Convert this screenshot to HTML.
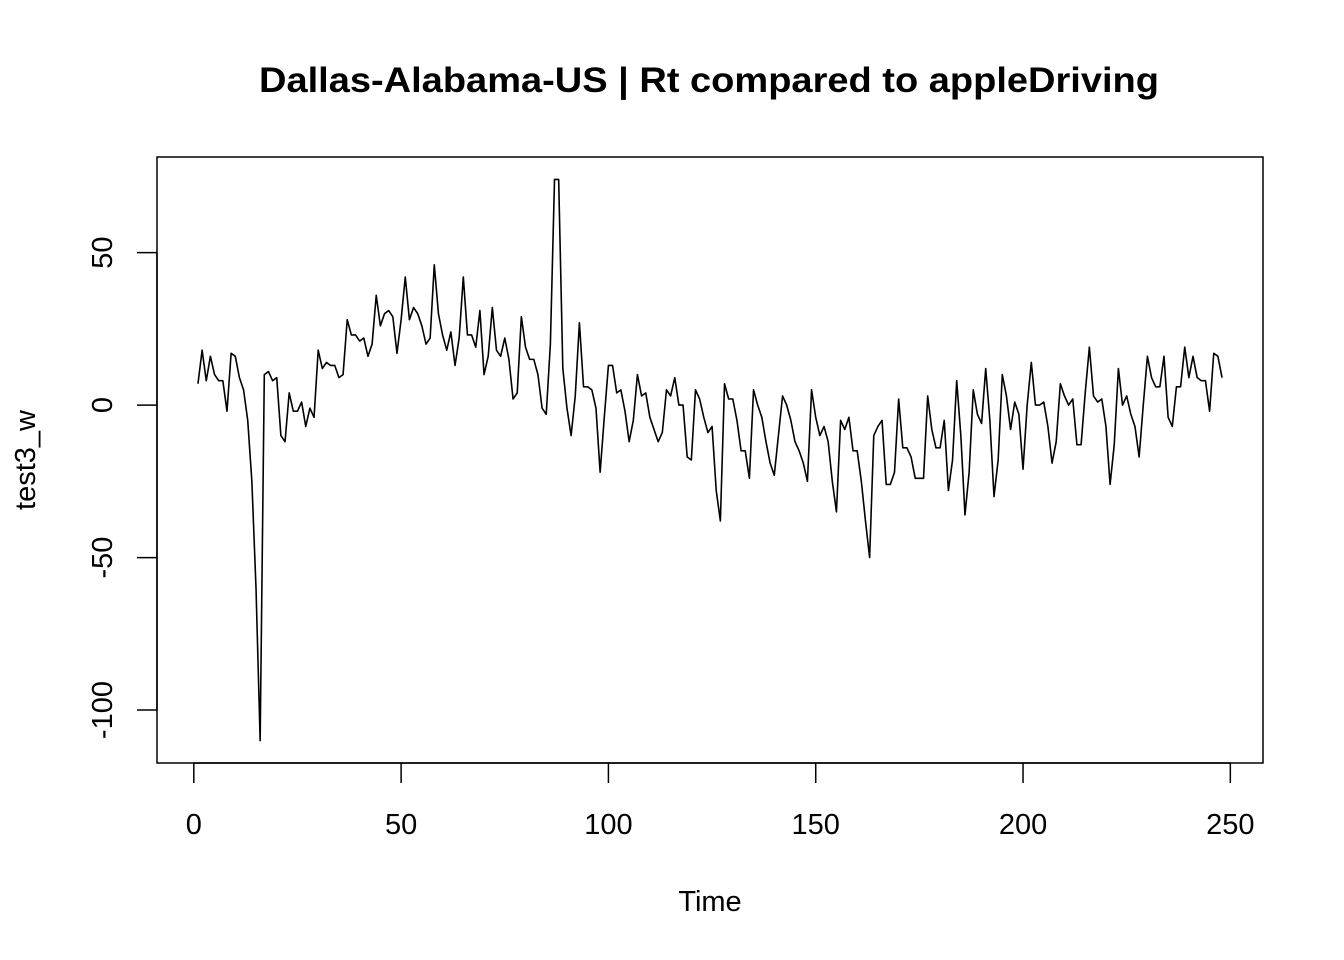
<!DOCTYPE html>
<html><head><meta charset="utf-8"><style>
html,body{margin:0;padding:0;background:#fff;}
svg{display:block;font-family:"Liberation Sans",Arial,sans-serif;}
</style></head><body>
<svg id="chart" width="1344" height="960" viewBox="0 0 1344 960" xmlns="http://www.w3.org/2000/svg">
<rect width="1344" height="960" fill="#fff"/>
<text x="709" y="92" text-anchor="middle" font-size="35" font-weight="bold" textLength="900" lengthAdjust="spacingAndGlyphs">Dallas-Alabama-US | Rt compared to appleDriving</text>
<rect x="157" y="157" width="1106" height="606" fill="none" stroke="#000" stroke-width="1.5"/>
<g id="xaxis"></g>
<g id="yaxis"></g>
<text x="710" y="911" text-anchor="middle" font-size="29">Time</text>
<text transform="translate(35,460) rotate(-90)" text-anchor="middle" font-size="29">test3_w</text>
<path id="series" fill="none" stroke="#000" stroke-width="1.6" stroke-linejoin="round"/>
</svg>
<script>
const values = [7,18,8,16,10,8,8,-2,17,16,9,5,-5,-25,-60,-110,10,11,8,9,-10,-12,4,-2,-2,1,-7,-1,-4,18,12,14,13,13,9,10,28,23,23,21,22,16,20,36,26,30,31,29,17,28,42,28,32,30,26,20,22,46,30,23,18,24,13,22,42,23,23,19,31,10,16,32,18,16,22,15,2,4,29,19,15,15,10,-1,-3,20,74,74,12,-1,-10,3,27,6,6,5,-1,-22,-4,13,13,4,5,-2,-12,-5,10,3,4,-4,-8,-12,-9,5,3,9,0,0,-17,-18,5,2,-4,-9,-7,-28,-38,7,2,2,-5,-15,-15,-24,5,0,-4,-12,-19,-23,-10,3,0,-5,-12,-15,-19,-25,5,-4,-10,-7,-12,-25,-35,-5,-8,-4,-15,-15,-25,-38,-50,-10,-7,-5,-26,-26,-22,2,-14,-14,-17,-24,-24,-24,3,-8,-14,-14,-5,-28,-18,8,-10,-36,-22,5,-3,-6,12,-5,-30,-18,10,3,-8,1,-3,-21,0,14,0,0,1,-7,-19,-12,7,3,0,2,-13,-13,4,19,3,1,2,-7,-26,-13,12,0,3,-3,-7,-17,0,16,9,6,6,16,-4,-7,6,6,19,9,16,9,8,8,-2,17,16,9];
const xTicks = [0,50,100,150,200,250];
const yTicks = [-100,-50,0,50];
const NS="http://www.w3.org/2000/svg";
const n=values.length;
const ymin=Math.min(...values), ymax=Math.max(...values);
const xr=[1-(n-1)*0.04, n+(n-1)*0.04];
const yr=[ymin-(ymax-ymin)*0.04, ymax+(ymax-ymin)*0.04];
const X=t=>157+(t-xr[0])/(xr[1]-xr[0])*1106;
const Y=v=>763-(v-yr[0])/(yr[1]-yr[0])*606;
let d="";
values.forEach((v,i)=>{d+=(i?"L":"M")+X(i+1).toFixed(2)+","+Y(v).toFixed(2);});
document.getElementById('series').setAttribute('d',d);
const xa=document.getElementById('xaxis');
const base=document.createElementNS(NS,'line');


base.setAttribute('x1',X(xTicks[0]));base.setAttribute('x2',X(xTicks[xTicks.length-1]));
base.setAttribute('y1',763);base.setAttribute('y2',763);base.setAttribute('stroke','#000');base.setAttribute('stroke-width','1.5');
xa.appendChild(base);
xTicks.forEach(t=>{
 const l=document.createElementNS(NS,'line');
 
 
 l.setAttribute('x1',X(t));l.setAttribute('x2',X(t));l.setAttribute('y1',763);l.setAttribute('y2',783);l.setAttribute('stroke','#000');l.setAttribute('stroke-width','1.5');
 xa.appendChild(l);
 const tx=document.createElementNS(NS,'text');
 
 
 tx.setAttribute('x',X(t));tx.setAttribute('y',834);tx.setAttribute('text-anchor','middle');tx.setAttribute('font-size','29');
 tx.textContent=t;xa.appendChild(tx);
});
const ya=document.getElementById('yaxis');
const yb=document.createElementNS(NS,'line');


yb.setAttribute('x1',157);yb.setAttribute('x2',157);yb.setAttribute('y1',Y(yTicks[0]));yb.setAttribute('y2',Y(yTicks[yTicks.length-1]));yb.setAttribute('stroke','#000');yb.setAttribute('stroke-width','1.5');
ya.appendChild(yb);
yTicks.forEach(v=>{
 const l=document.createElementNS(NS,'line');
 
 
 l.setAttribute('x1',137);l.setAttribute('x2',157);l.setAttribute('y1',Y(v));l.setAttribute('y2',Y(v));l.setAttribute('stroke','#000');l.setAttribute('stroke-width','1.5');
 ya.appendChild(l);
 const tx=document.createElementNS(NS,'text');
 
 
 tx.setAttribute('transform','translate(112,'+Y(v)+') rotate(-90)');tx.setAttribute('text-anchor','middle');tx.setAttribute('font-size','29');
 tx.textContent=v;ya.appendChild(tx);
});
</script>
</body></html>
